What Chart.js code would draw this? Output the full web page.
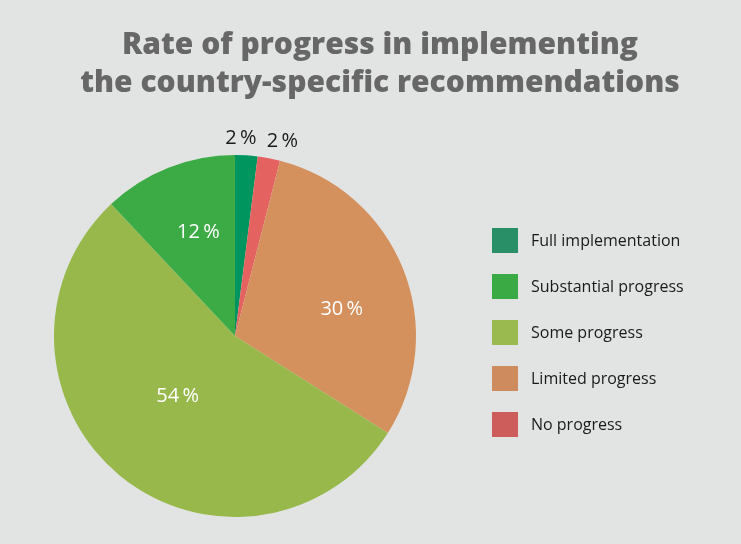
<!DOCTYPE html>
<html>
<head>
<meta charset="utf-8">
<script src="https://cdn.jsdelivr.net/npm/chart.js@4.4.1/dist/chart.umd.min.js"></script>
<style>
  html, body { margin: 0; padding: 0; background: #e2e4e3; }
  canvas { display: block; }
</style>
</head>
<body>
<canvas id="c" width="741" height="544"></canvas>
<script>
// ---- data (pie order, clockwise from 12 o'clock) ----
const categories = ["Full implementation", "No progress", "Limited progress", "Some progress", "Substantial progress"];
const values = [2, 2, 30, 54, 12];
const sliceColors = ["#00955f", "#e4625f", "#d4905d", "#98b84c", "#3cab46"];
// legend order as shown in the reference
const legendOrder = ["Full implementation", "Substantial progress", "Some progress", "Limited progress", "No progress"];
const legendColors = ["#288f67", "#3aaa45", "#9ab94e", "#cd8b5e", "#cd5d5a"];
const titleLines = ["Rate of progress in implementing", "the country-specific recommendations"];

// ---- styling / placement ----
const FONT = "'Open Sans', 'DejaVu Sans', sans-serif";
const labelStyle = [
  { f: 0.24, r: 1.094, color: "#1a1a1a" },
  { f: 0.90, r: 1.109, color: "#1a1a1a" },
  { f: 0.57, r: 0.608, color: "#ffffff" },
  { f: 0.52, r: 0.46,  color: "#ffffff" },
  { f: 0.55, r: 0.608, color: "#ffffff" }
];

const decor = {
  id: "decor",
  afterDatasetsDraw(chart) {
    const ctx = chart.ctx;
    const meta = chart.getDatasetMeta(0);
    ctx.save();
    ctx.font = "500 20px " + FONT;
    ctx.textAlign = "center";
    ctx.textBaseline = "middle";
    meta.data.forEach((arc, i) => {
      const p = arc.getProps(["x", "y", "startAngle", "endAngle", "outerRadius"], true);
      const s = labelStyle[i];
      const a = p.startAngle + (p.endAngle - p.startAngle) * s.f;
      const rr = p.outerRadius * s.r;
      ctx.fillStyle = s.color;
      ctx.fillText(values[i] + "\u2009%", p.x + Math.cos(a) * rr, p.y + Math.sin(a) * rr);
    });
    ctx.restore();
  },
  afterDraw(chart) {
    const ctx = chart.ctx;
    ctx.save();
    // title
    ctx.fillStyle = "#666766";
    ctx.font = "800 30px " + FONT;
    ctx.textAlign = "center";
    ctx.textBaseline = "alphabetic";
    titleLines.forEach((t, k) => ctx.fillText(t, 380, 54 + k * 38));
    // legend
    ctx.font = "500 16px " + FONT;
    ctx.textAlign = "left";
    ctx.textBaseline = "middle";
    legendOrder.forEach((name, k) => {
      const y = 228 + k * 46;
      ctx.fillStyle = legendColors[k];
      ctx.fillRect(492, y, 26, 25);
      ctx.fillStyle = "#1a1a1a";
      ctx.fillText(name, 531, y + 13);
    });
    ctx.restore();
  }
};

new Chart(document.getElementById("c"), {
  type: "pie",
  data: {
    labels: categories,
    datasets: [{ data: values, backgroundColor: sliceColors, borderWidth: 0 }]
  },
  options: {
    responsive: false,
    animation: false,
    devicePixelRatio: 1,
    layout: { padding: { left: 53, right: 324, top: 155, bottom: 27 } },
    plugins: { legend: { display: false }, title: { display: false }, tooltip: { enabled: false } }
  },
  plugins: [decor]
});
</script>
</body>
</html>
